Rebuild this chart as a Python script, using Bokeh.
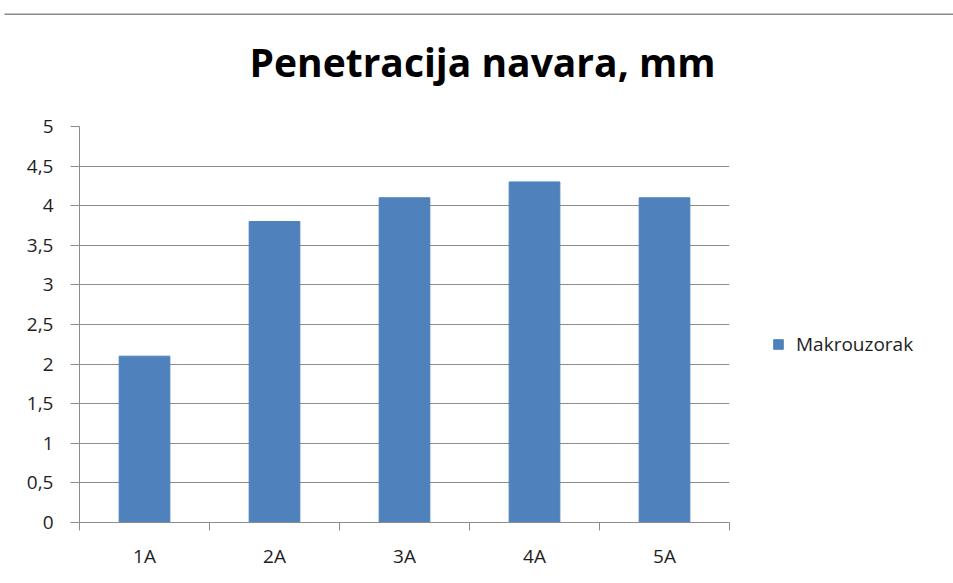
from bokeh.plotting import figure
from bokeh.models import (Range1d, FixedTicker, Legend, LegendItem, ColumnDataSource)
from bokeh.embed import file_html
from bokeh.resources import INLINE

# ---- data ----
categories = ["1A", "2A", "3A", "4A", "5A"]
values = [2.1, 3.8, 4.1, 4.3, 4.1]
y_ticks = [0, 0.5, 1, 1.5, 2, 2.5, 3, 3.5, 4, 4.5, 5]
y_tick_labels = ["0", "0,5", "1", "1,5", "2", "2,5", "3", "3,5", "4", "4,5", "5"]
series_name = "Makrouzorak"
title_text = "Penetracija navara, mm"

FONT = "Open Sans"
GRAY = "#8c8c8c"
BAR = "#4F81BD"
TXT = "#1e1e1e"

# thin separator strip above the chart (document rule line)
rule = figure(width=953, height=15, min_border_left=4, min_border_right=0,
              min_border_top=13, min_border_bottom=0,
              x_axis_type=None, y_axis_type=None,
              output_backend="svg", toolbar_location=None,
              background_fill_color="#8a8a8a", border_fill_color="white")
rule.outline_line_color = None
rule.xgrid.visible = False
rule.ygrid.visible = False

xs = list(range(1, len(categories) + 1))
src = ColumnDataSource(dict(x=xs, top=values, cat=categories))

p = figure(frame_width=650, frame_height=396,
           min_border_left=79, min_border_right=200,
           min_border_top=91, min_border_bottom=45,
           x_range=Range1d(0.5, len(categories) + 0.5),
           y_range=Range1d(0, 5),
           output_backend="svg", toolbar_location=None,
           background_fill_color="white", border_fill_alpha=0,
           margin=(-22, 0, 0, 0))
p.outline_line_color = None

r = p.vbar(x="x", top="top", width=0.39, bottom=0, source=src,
           fill_color=BAR, line_color=BAR)

# title
p.title.text = title_text
p.title.align = "left"
p.title.offset = 170
p.title.standoff = 78
p.title.text_font = FONT
p.title.text_font_style = "bold"
p.title.text_font_size = "39px"
p.title.text_color = "#000000"

# x axis: labels at category centres, ticks at category boundaries
xa = p.xaxis[0]
xa.ticker = FixedTicker(ticks=xs, minor_ticks=[x - 0.5 for x in xs] + [xs[-1] + 0.5])
xa.major_label_overrides = {x: c for x, c in zip(xs, categories)}
xa.major_tick_out = 0
xa.major_tick_in = 0
xa.minor_tick_out = 8
xa.minor_tick_in = 0
xa.minor_tick_line_color = GRAY
xa.axis_line_color = GRAY
xa.major_label_text_font = FONT
xa.major_label_text_font_size = "19px"
xa.major_label_text_color = TXT
xa.major_label_standoff = 12

ya = p.yaxis[0]
ya.ticker = FixedTicker(ticks=y_ticks, minor_ticks=[])
ya.major_label_overrides = {t: l for t, l in zip(y_ticks, y_tick_labels)}
ya.major_tick_out = 9
ya.major_tick_in = 0
ya.major_tick_line_color = GRAY
ya.axis_line_color = GRAY
ya.major_label_text_font = FONT
ya.major_label_text_font_size = "19px"
ya.major_label_text_color = TXT
ya.major_label_standoff = 17

p.xgrid.grid_line_color = None
p.ygrid.grid_line_color = GRAY
p.ygrid.grid_line_width = 1

legend = Legend(items=[LegendItem(label=series_name, renderers=[r])],
                location=(43, 165), padding=0, margin=0,
                border_line_color=None, background_fill_alpha=0,
                glyph_width=12, glyph_height=12, label_height=12,
                label_standoff=12, label_text_font=FONT,
                label_text_font_size="19px", label_text_color=TXT,
                label_text_baseline="middle")
p.add_layout(legend, "right")

open("out.html", "w").write(file_html([rule, p], INLINE))
